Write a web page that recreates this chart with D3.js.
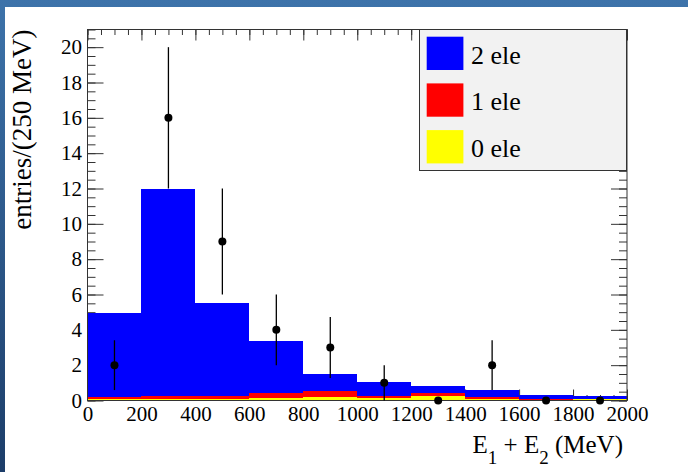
<!DOCTYPE html>
<html>
<head>
<meta charset="UTF-8">
<title>E1 + E2 stacked histogram</title>
<style>
  body { margin: 0; background: #fff; }
  svg { display: block; }
  svg text { font-family: "Liberation Serif", "DejaVu Serif", serif; fill: #000; }
</style>
</head>
<body>
<script src="https://cdn.jsdelivr.net/npm/d3@7"></script>
<script>

// bins of 200 MeV, lower edges
var binLow = [0, 200, 400, 600, 800, 1000, 1200, 1400, 1600, 1800];
var binWidth = 200;

// stacked contributions (bottom to top)
var zeroEle = [0.08, 0.08, 0.10, 0.15, 0.20, 0.12, 0.28, 0.10, 0.05, 0.07];
var oneEle  = [0.11, 0.15, 0.18, 0.25, 0.31, 0.16, 0.12, 0.11, 0.06, 0.04];
var twoEle  = [4.75, 11.77, 5.22, 2.99, 1.00, 0.74, 0.43, 0.39, 0.19, 0.14];

// data points with errors
var dataCenter = [100, 300, 500, 700, 900, 1100, 1300, 1500, 1700, 1900];
var dataValue  = [2, 16, 9, 4, 3, 1, 0, 2, 0, 0];
var dataError  = [1.41, 4, 3, 2, 1.73, 1, 0, 1.41, 0, 0];

var xTicks = [0, 200, 400, 600, 800, 1000, 1200, 1400, 1600, 1800, 2000];
var yTicks = [0, 2, 4, 6, 8, 10, 12, 14, 16, 18, 20];

var legendItems = [
  {label: "2 ele", color: "#0000ff"},
  {label: "1 ele", color: "#ff0000"},
  {label: "0 ele", color: "#ffff00"}
];

var W = 688, H = 472;
var frame = {left: 87.5, right: 627, top: 29.5, bottom: 400.5};
var serif = "'Liberation Serif', 'DejaVu Serif', serif";

var svg = d3.select("body").append("svg")
  .attr("width", W)
  .attr("height", H);

// slide background peeking out at top and left
var grad = svg.append("defs").append("linearGradient")
  .attr("id", "bg")
  .attr("x1", 0).attr("y1", 0).attr("x2", 0).attr("y2", 1);
grad.append("stop").attr("offset", "0%").attr("stop-color", "#3d73aa");
grad.append("stop").attr("offset", "100%").attr("stop-color", "#1c3d69");

svg.append("rect").attr("width", W).attr("height", H).attr("fill", "url(#bg)");
svg.append("rect").attr("x", 5).attr("y", 7).attr("width", W - 5).attr("height", H - 7).attr("fill", "#fff");

var x = d3.scaleLinear().domain([0, 2000]).range([frame.left, frame.right]);
var y = d3.scaleLinear().domain([0, 21]).range([frame.bottom, frame.top]);

var minorX = d3.range(0, 2001, 50);
var minorY = d3.range(0, 21.01, 0.5);

function strip(g) {
  g.select(".domain").remove();
  g.selectAll(".tick line").attr("stroke", "#333");
}

// ticks first, histogram covers them
var axes = svg.append("g");

axes.append("g")
  .attr("transform", "translate(0," + frame.bottom + ")")
  .call(d3.axisBottom(x).tickValues(minorX).tickSize(-5.5).tickFormat(""))
  .call(strip);
axes.append("g")
  .attr("transform", "translate(0," + frame.top + ")")
  .call(d3.axisTop(x).tickValues(minorX).tickSize(-5.5).tickFormat(""))
  .call(strip);
axes.append("g")
  .attr("transform", "translate(0," + frame.top + ")")
  .call(d3.axisTop(x).tickValues(xTicks).tickSize(-11).tickFormat(""))
  .call(strip);
axes.append("g")
  .attr("transform", "translate(0," + frame.bottom + ")")
  .call(d3.axisBottom(x).tickValues(xTicks).tickSize(-11).tickFormat(""))
  .call(strip);

axes.append("g")
  .attr("transform", "translate(" + frame.left + ",0)")
  .call(d3.axisLeft(y).tickValues(minorY).tickSize(-8).tickFormat(""))
  .call(strip);
axes.append("g")
  .attr("transform", "translate(" + frame.left + ",0)")
  .call(d3.axisLeft(y).tickValues(yTicks).tickSize(-16).tickFormat(""))
  .call(strip);
axes.append("g")
  .attr("transform", "translate(" + frame.right + ",0)")
  .call(d3.axisRight(y).tickValues(minorY).tickSize(-8).tickFormat(""))
  .call(strip);
axes.append("g")
  .attr("transform", "translate(" + frame.right + ",0)")
  .call(d3.axisRight(y).tickValues(yTicks).tickSize(-16).tickFormat(""))
  .call(strip);

// stacked histogram
var rows = binLow.map(function(b, i) {
  return {low: b, zero: zeroEle[i], one: oneEle[i], two: twoEle[i]};
});
var stack = d3.stack().keys(["zero", "one", "two"])(rows);
var fills = {zero: "#ffff00", one: "#ff0000", two: "#0000ff"};

svg.append("g").selectAll("g")
  .data(stack)
  .enter().append("g")
  .attr("fill", function(d) { return fills[d.key]; })
  .selectAll("rect")
  .data(function(d) { return d; })
  .enter().append("rect")
  .attr("x", function(d) { return x(d.data.low); })
  .attr("width", function(d) { return x(d.data.low + binWidth) - x(d.data.low); })
  .attr("y", function(d) { return y(d[1]); })
  .attr("height", function(d) { return y(d[0]) - y(d[1]); })
  .attr("shape-rendering", "crispEdges");

// tick labels
function labelStyle(g) {
  g.select(".domain").remove();
  g.attr("font-family", null).attr("font-size", null);
  g.selectAll("text")
    .style("font-family", serif)
    .style("font-size", "21px")
    .style("fill", "#000");
}
svg.append("g")
  .attr("transform", "translate(0," + frame.bottom + ")")
  .call(d3.axisBottom(x).tickValues(xTicks).tickSize(0).tickPadding(6).tickFormat(d3.format("d")))
  .call(labelStyle);
svg.append("g")
  .attr("transform", "translate(" + frame.left + ",0)")
  .call(d3.axisLeft(y).tickValues(yTicks).tickSize(0).tickPadding(5.5).tickFormat(d3.format("d")))
  .call(labelStyle);

// frame
svg.append("rect")
  .attr("x", frame.left).attr("y", frame.top)
  .attr("width", frame.right - frame.left)
  .attr("height", frame.bottom - frame.top)
  .attr("fill", "none")
  .attr("stroke", "#333")
  .attr("stroke-width", 1);

// data points
var pts = svg.append("g");
pts.selectAll("line")
  .data(dataCenter)
  .enter().append("line")
  .attr("x1", function(d) { return x(d); })
  .attr("x2", function(d) { return x(d); })
  .attr("y1", function(d, i) { return y(Math.max(0, dataValue[i] - dataError[i])); })
  .attr("y2", function(d, i) { return y(dataValue[i] + dataError[i]); })
  .attr("stroke", "#000")
  .attr("stroke-width", 1.3);
pts.selectAll("circle")
  .data(dataCenter)
  .enter().append("circle")
  .attr("cx", function(d) { return x(d); })
  .attr("cy", function(d, i) { return y(dataValue[i]); })
  .attr("r", 4)
  .attr("fill", "#000");

// legend
var leg = svg.append("g");
leg.append("rect")
  .attr("x", 419.5).attr("y", 29.5)
  .attr("width", 207).attr("height", 141)
  .attr("fill", "#f2f2f2")
  .attr("stroke", "#333");
var items = leg.selectAll("g.item")
  .data(legendItems)
  .enter().append("g")
  .attr("class", "item")
  .attr("transform", function(d, i) { return "translate(0," + (i * 46.7) + ")"; });
items.append("rect")
  .attr("x", 426.7).attr("y", 36.7)
  .attr("width", 36.7).attr("height", 33.3)
  .attr("fill", function(d) { return d.color; });
items.append("text")
  .attr("x", 471).attr("y", 63.5)
  .style("font-size", "26px")
  .text(function(d) { return d.label; });

// axis titles
svg.append("text")
  .attr("transform", "translate(31," + frame.top + ") rotate(-90)")
  .attr("text-anchor", "end")
  .style("font-size", "27px")
  .text("entries/(250 MeV)");

var xt = svg.append("text")
  .attr("x", 623).attr("y", 453)
  .attr("text-anchor", "end")
  .style("font-size", "25px");
xt.append("tspan").text("E");
xt.append("tspan").style("font-size", "19px").attr("dy", 11).text("1");
xt.append("tspan").attr("dy", -11).text(" + E");
xt.append("tspan").style("font-size", "19px").attr("dy", 11).text("2");
xt.append("tspan").attr("dy", -11).text(" (MeV)");

</script>
</body>
</html>
